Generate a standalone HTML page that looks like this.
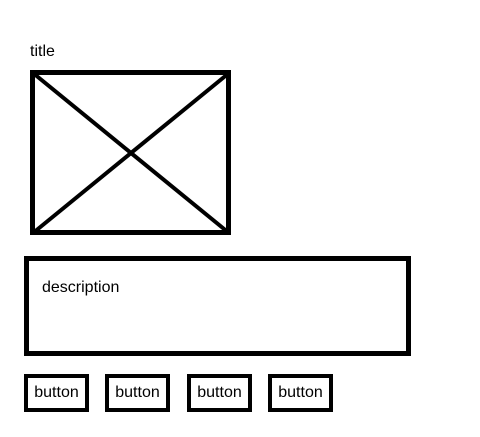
<!DOCTYPE html>
<html><head><meta charset="utf-8"><style>
html,body{margin:0;padding:0;background:#fff;width:480px;height:437px;overflow:hidden;position:relative;font-family:"Liberation Sans",sans-serif;color:#000}
.a{position:absolute;box-sizing:border-box}
.t{font-size:16px;line-height:16px}
.btn{border:4px solid #000;height:38px;width:65px;top:374px;font-size:16px;display:flex;align-items:center;justify-content:center}
</style></head><body>
<div class="a t" style="left:30px;top:44px">title</div>
<svg class="a" style="left:30px;top:70px" width="202" height="166">
<rect x="2.5" y="2.5" width="196" height="160" fill="none" stroke="#000" stroke-width="5"/>
<line x1="3" y1="3" x2="199" y2="163" stroke="#000" stroke-width="4"/>
<line x1="199" y1="3" x2="3" y2="163" stroke="#000" stroke-width="4"/>
</svg>
<div class="a" style="left:24px;top:256px;width:387px;height:100px;border:5px solid #000">
<div class="a t" style="left:13px;top:19px">description</div>
</div>
<div class="a btn" style="left:24px">button</div>
<div class="a btn" style="left:105px">button</div>
<div class="a btn" style="left:187px">button</div>
<div class="a btn" style="left:268px">button</div>
</body></html>
